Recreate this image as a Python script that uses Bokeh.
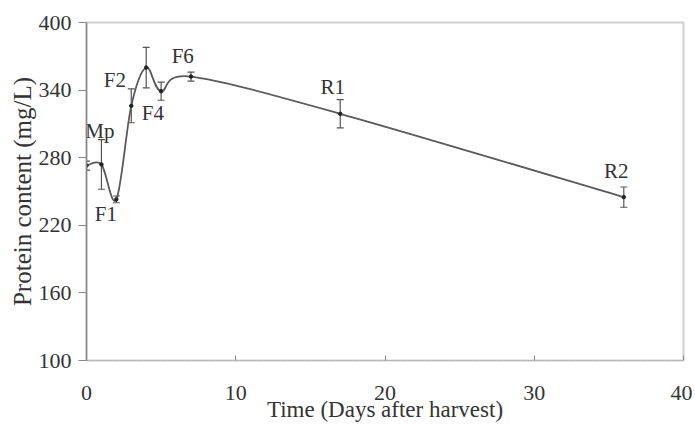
from bokeh.plotting import figure
from bokeh.models import ColumnDataSource, Whisker, FixedTicker, TeeHead
from bokeh.core.properties import value
from bokeh.embed import file_html
from bokeh.resources import INLINE

# data
days = [0, 1, 2, 3, 4, 5, 7, 17, 36]
protein = [273, 274, 243, 326, 360, 339, 352, 319, 245]
err = [4, 22, 3, 15, 18, 8, 4, 12.5, 9]

stage_labels = ["Mp", "F1", "F2", "F4", "F6", "R1", "R2"]
label_x = [0.9, 1.3, 1.9, 4.45, 6.45, 16.5, 35.5]
label_y = [304, 230, 349, 320, 370, 343, 268]

x_ticks = [0, 10, 20, 30, 40]
y_ticks = [100, 160, 220, 280, 340, 400]

FONT = "Liberation Serif"

p = figure(width=692, height=425, output_backend="svg", toolbar_location=None,
           x_range=(0, 40), y_range=(100, 400),
           min_border_left=86, min_border_right=9, min_border_top=22, min_border_bottom=65)
p.background_fill_color = "white"
p.border_fill_color = "white"
p.grid.visible = False
p.outline_line_color = "#d0d0d0"
p.outline_line_width = 2

# smooth curve (Catmull-Rom style bezier through points)
n = len(days)
x0s, y0s, x1s, y1s, cx0, cy0, cx1, cy1 = [], [], [], [], [], [], [], []
for i in range(n - 1):
    xa, ya = days[i], protein[i]
    xb, yb = days[i + 1], protein[i + 1]
    xp, yp = (days[i - 1], protein[i - 1]) if i > 0 else (xa, ya)
    xn, yn = (days[i + 2], protein[i + 2]) if i + 2 < n else (xb, yb)
    x0s.append(xa); y0s.append(ya); x1s.append(xb); y1s.append(yb)
    cx0.append(xa + (xb - xp) / 6.0); cy0.append(ya + (yb - yp) / 6.0)
    cx1.append(xb - (xn - xa) / 6.0); cy1.append(yb - (yn - ya) / 6.0)
p.bezier(x0=x0s, y0=y0s, x1=x1s, y1=y1s, cx0=cx0, cy0=cy0, cx1=cx1, cy1=cy1,
         line_color="#5a5a5a", line_width=1.8)

src = ColumnDataSource(dict(x=days, y=protein,
                            lo=[a - b for a, b in zip(protein, err)],
                            hi=[a + b for a, b in zip(protein, err)]))
w = Whisker(base="x", lower="lo", upper="hi", source=src,
            line_color="#555555", line_width=1.2,
            upper_head=TeeHead(size=7, line_color="#555555", line_width=1.2),
            lower_head=TeeHead(size=7, line_color="#555555", line_width=1.2))
p.add_layout(w)
p.scatter(x="x", y="y", source=src, size=3.5, color="#222222")

p.text(x=label_x, y=label_y, text=stage_labels, text_font=value(FONT),
       text_font_size="21px", text_color="#333333",
       text_align="center", text_baseline="middle")

# axes
p.xaxis.ticker = FixedTicker(ticks=x_ticks)
p.yaxis.ticker = FixedTicker(ticks=y_ticks)
p.xaxis.axis_label = "Time (Days after harvest)"
p.yaxis.axis_label = "Protein content (mg/L)"
for ax in (p.xaxis[0], p.yaxis[0]):
    ax.axis_label_text_font = FONT
    ax.axis_label_text_font_style = "normal"
    ax.axis_label_text_color = "#333333"
    ax.major_label_text_font = FONT
    ax.major_label_text_font_size = "22px"
    ax.major_label_text_color = "#333333"
    ax.minor_tick_line_color = None
    ax.major_tick_line_color = "#888888"
p.xaxis.axis_label_text_font_size = "23px"
p.yaxis.axis_label_text_font_size = "25px"
p.yaxis.axis_line_color = "#888888"
p.yaxis.axis_line_width = 1.5
p.yaxis.major_tick_out = 8
p.yaxis.major_tick_in = 0
p.yaxis.major_label_standoff = 7
p.yaxis.axis_label_standoff = 0
p.xaxis.axis_line_color = "#aaaaaa"
p.xaxis.axis_line_dash = "2 1"
p.xaxis.major_tick_in = 5
p.xaxis.major_tick_out = 0
p.xaxis.major_label_standoff = 25
p.xaxis.axis_label_standoff = -6

open("out.html", "w").write(file_html(p, INLINE))
